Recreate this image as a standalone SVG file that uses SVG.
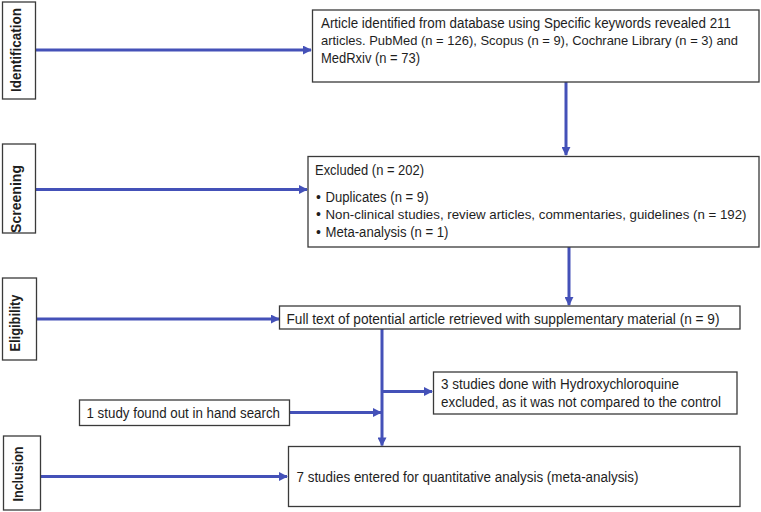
<svg xmlns="http://www.w3.org/2000/svg" width="761" height="512" viewBox="0 0 761 512">
<style>
.box{fill:#fff;stroke:#3a3a3a;stroke-width:1.3}
.t{font-family:"Liberation Sans",Arial,sans-serif;font-size:14px;fill:#1e1e1e}
.s{font-size:13.4px}
.lab{font-family:"Liberation Sans",Arial,sans-serif;font-size:14px;font-weight:bold;fill:#1e1e1e}
.c{stroke:#4451b8;stroke-width:3;fill:none}
</style>
<defs>
<marker id="ah" viewBox="0 0 10 10" refX="9" refY="5" markerWidth="3" markerHeight="3" orient="auto" markerUnits="strokeWidth">
<path d="M0,0 L10,5 L0,10 z" fill="#4451b8"/>
</marker>
</defs>
<rect width="761" height="512" fill="#fff"/>
<g id="connectors">
<line class="c" x1="36" y1="50" x2="311" y2="50" marker-end="url(#ah)"/>
<line class="c" x1="566" y1="82" x2="566" y2="155" marker-end="url(#ah)"/>
<line class="c" x1="36" y1="189.5" x2="307" y2="189.5" marker-end="url(#ah)"/>
<line class="c" x1="569" y1="247" x2="569" y2="305" marker-end="url(#ah)"/>
<line class="c" x1="37" y1="319" x2="279" y2="319" marker-end="url(#ah)"/>
<line class="c" x1="382" y1="329" x2="382" y2="445.5" marker-end="url(#ah)"/>
<line class="c" x1="382" y1="391.5" x2="432" y2="391.5" marker-end="url(#ah)"/>
<line class="c" x1="289" y1="412.5" x2="381" y2="412.5" marker-end="url(#ah)"/>
<line class="c" x1="41" y1="476.5" x2="287" y2="476.5" marker-end="url(#ah)"/>
</g>
<g id="identification">
<rect class="box" x="2.5" y="2" width="33" height="97"/>
<text class="lab" transform="translate(21,50) rotate(-90)" text-anchor="middle" textLength="84" lengthAdjust="spacingAndGlyphs">Identification</text>
</g>
<g id="screening">
<rect class="box" x="2.5" y="144" width="33" height="89"/>
<text class="lab" transform="translate(21,199) rotate(-90)" text-anchor="middle" textLength="68" lengthAdjust="spacingAndGlyphs">Screening</text>
</g>
<g id="eligibility">
<rect class="box" x="2.5" y="278" width="34" height="82"/>
<text class="lab" transform="translate(19.5,323) rotate(-90)" text-anchor="middle" textLength="57" lengthAdjust="spacingAndGlyphs">Eligibility</text>
</g>
<g id="inclusion">
<rect class="box" x="3.5" y="436" width="37" height="74"/>
<text class="lab" transform="translate(22.5,474) rotate(-90)" text-anchor="middle" textLength="55" lengthAdjust="spacingAndGlyphs">Inclusion</text>
</g>
<g id="records">
<rect class="box" x="312.5" y="10" width="446.5" height="72"/>
<text class="t" x="321" y="27.5" textLength="410" lengthAdjust="spacingAndGlyphs">Article identified from database using Specific keywords revealed 211</text>
<text class="t s" x="321" y="45" textLength="417" lengthAdjust="spacingAndGlyphs">articles. PubMed (n = 126), Scopus (n = 9), Cochrane Library (n = 3) and</text>
<text class="t" x="321" y="62.5" textLength="99" lengthAdjust="spacingAndGlyphs">MedRxiv (n = 73)</text>
</g>
<g id="excluded">
<rect class="box" x="308" y="156.5" width="451" height="90.5"/>
<text class="t" x="315" y="174.5" textLength="109" lengthAdjust="spacingAndGlyphs">Excluded (n = 202)</text>
<text class="t" x="316" y="202">•</text>
<text class="t" x="325.5" y="202" textLength="103" lengthAdjust="spacingAndGlyphs">Duplicates (n = 9)</text>
<text class="t" x="316" y="219">•</text>
<text class="t s" x="325.5" y="219" textLength="421" lengthAdjust="spacingAndGlyphs">Non-clinical studies, review articles, commentaries, guidelines (n = 192)</text>
<text class="t" x="316" y="236.5">•</text>
<text class="t" x="325.5" y="236.5" textLength="123" lengthAdjust="spacingAndGlyphs">Meta-analysis (n = 1)</text>
</g>
<g id="fulltext">
<rect class="box" x="279.5" y="306" width="460.5" height="23"/>
<text class="t" x="286.5" y="324" textLength="433" lengthAdjust="spacingAndGlyphs">Full text of potential article retrieved with supplementary material (n = 9)</text>
</g>
<g id="hcq">
<rect class="box" x="433.5" y="372" width="303.5" height="42"/>
<text class="t" x="441" y="389" textLength="238" lengthAdjust="spacingAndGlyphs">3 studies done with Hydroxychloroquine</text>
<text class="t" x="441" y="406.5" textLength="280" lengthAdjust="spacingAndGlyphs">excluded, as it was not compared to the control</text>
</g>
<g id="handsearch">
<rect class="box" x="79.5" y="400" width="210" height="25.5"/>
<text class="t" x="86.5" y="417.5" textLength="193.5" lengthAdjust="spacingAndGlyphs">1 study found out in hand search</text>
</g>
<g id="included">
<rect class="box" x="288.5" y="446.5" width="451.5" height="60"/>
<text class="t" x="296.5" y="481.5" textLength="342" lengthAdjust="spacingAndGlyphs">7 studies entered for quantitative analysis (meta-analysis)</text>
</g>
</svg>
